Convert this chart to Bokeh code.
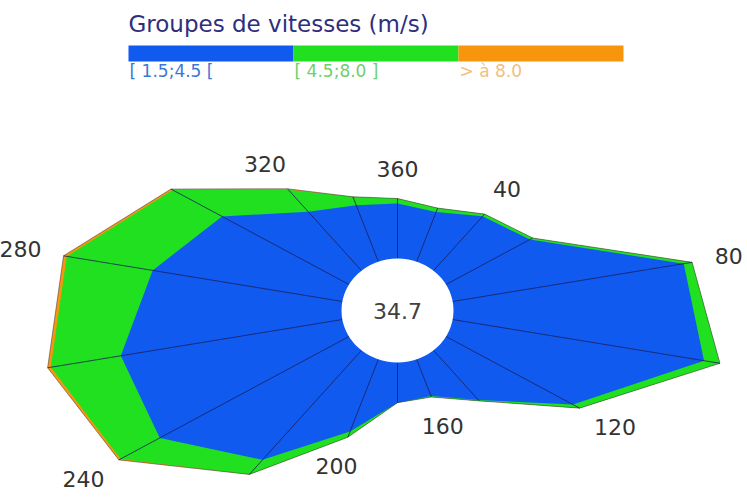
import numpy as np
from bokeh.plotting import figure
from bokeh.models import Range1d
from bokeh.core.properties import value
from bokeh.embed import file_html
from bokeh.resources import INLINE

# ---------------- data ----------------
directions = [0, 20, 40, 60, 80, 100, 120, 140, 160, 180, 200, 220, 240, 260, 280, 300, 320, 340]
blue_pct = [1.47, 1.41, 1.89, 2.40, 5.81, 6.32, 3.63, 1.73, 1.04, 1.07, 2.05, 3.81, 5.41, 5.57, 4.77, 3.63, 2.05, 1.60]
green_pct = [0.13, 0.11, 0.08, 0.08, 0.21, 0.40, 0.19, 0.03, 0.03, 0.00, 0.16, 0.51, 1.12, 1.76, 2.16, 1.41, 0.77, 0.24]
orange_pct = [0, 0, 0, 0, 0, 0, 0, 0, 0, 0, 0, 0, 0.05, 0.08, 0.08, 0.05, 0.03, 0]
calm_pct = 34.7
label_dirs = [320, 360, 40, 80, 120, 160, 200, 240, 280]
class_names = ["[ 1.5;4.5 [", "[ 4.5;8.0 ]", "> à 8.0"]
legend_title = "Groupes de vitesses (m/s)"

# ---------------- style ----------------
BLUE = "#105af0"
GREEN = "#20e020"
ORANGE = "#f7960c"
LABEL_COLORS = ["#3a78d8", "#6cd06c", "#f0c080"]
R0 = 52.0      # hole radius (data units)
K = 37.5       # data units per percent
SX = 1.077     # horizontal stretch of the picture
FONT = "DejaVu Sans"

W, H = 747, 500
CX, CY = 397, 310  # centre in pixels from top-left


def px(xp, yp):
    """page pixel -> data coordinates"""
    return (xp - CX) / SX, CY - yp


p = figure(width=W, height=H,
           x_range=Range1d(-CX / SX, (W - CX) / SX), y_range=Range1d(-(H - CY), CY),
           output_backend="svg", toolbar_location=None, min_border=0)
p.axis.visible = False
p.grid.visible = False
p.outline_line_color = None
p.background_fill_color = "white"
p.border_fill_color = "white"

theta = np.radians(np.array(directions, dtype=float))
b = np.array(blue_pct)
g = np.array(green_pct)
o = np.array(orange_pct)
r_blue = R0 + K * b
r_green = R0 + K * (b + g)
r_orange = R0 + K * (b + g + o)


def xy(r, th):
    return r * np.sin(th), r * np.cos(th)


for r, col in [(r_orange, ORANGE), (r_green, GREEN), (r_blue, BLUE)]:
    xs, ys = xy(r, theta)
    p.patch(list(xs), list(ys), fill_color=col, line_color=None)

# outer outline
xs, ys = xy(r_orange, theta)
p.line(list(xs) + [xs[0]], list(ys) + [ys[0]], line_color="#303050", line_alpha=0.5, line_width=1)

# radial lines
x0, y0 = xy(np.full_like(theta, R0), theta)
x1, y1 = xy(r_orange, theta)
p.segment(x0=list(x0), y0=list(y0), x1=list(x1), y1=list(y1),
          line_color="#1a1f5a", line_alpha=0.8, line_width=1)

# hole
p.ellipse(x=[0], y=[0], width=2 * R0, height=2 * R0, fill_color="white", line_color=None)
p.text(x=[0], y=[0], text=[f"{calm_pct:.1f}"], text_font=value(FONT), text_font_size="22px",
       text_color="#404040", text_align="center", text_baseline="middle")

# direction labels
lab_x, lab_y, lab_t = [], [], []
for d in label_dirs:
    i = directions.index(d % 360)
    th = np.radians(d)
    txt = str(d)
    hw = 6.6 * len(txt) / SX
    hh = 8.0
    s, c = abs(np.sin(th)), abs(np.cos(th))
    box = min(hw / s if s > 1e-6 else 1e9, hh / c if c > 1e-6 else 1e9)
    rr = r_orange[i] + 22 + box
    lx, ly = xy(rr, th)
    lab_x.append(lx)
    lab_y.append(ly)
    lab_t.append(txt)
p.text(x=lab_x, y=lab_y, text=lab_t, text_font=value(FONT), text_font_size="22px",
       text_color="#333333", text_align="center", text_baseline="middle")

# legend
LX_PX, SEG_PX = 128, 165
tx, ty = px(LX_PX, 23)
p.text(x=[tx], y=[ty], text=[legend_title], text_font=value(FONT), text_font_size="23px",
       text_color="#2e2e7e", text_align="left", text_baseline="middle")
n = len(class_names)
lefts = [px(LX_PX + SEG_PX * i, 0)[0] for i in range(n)]
rights = [px(LX_PX + SEG_PX * (i + 1), 0)[0] for i in range(n)]
top_y = px(0, 45)[1]
bot_y = px(0, 61)[1]
p.quad(left=lefts, right=rights, top=[top_y] * n, bottom=[bot_y] * n,
       fill_color=[BLUE, GREEN, ORANGE], line_color=None)
lab_y0 = px(0, 70)[1]
p.text(x=[l + 1 for l in lefts], y=[lab_y0] * n, text=class_names, text_font=value(FONT),
       text_font_size="17px", text_color=LABEL_COLORS, text_align="left", text_baseline="middle")

open("out.html", "w").write(file_html(p, INLINE))
